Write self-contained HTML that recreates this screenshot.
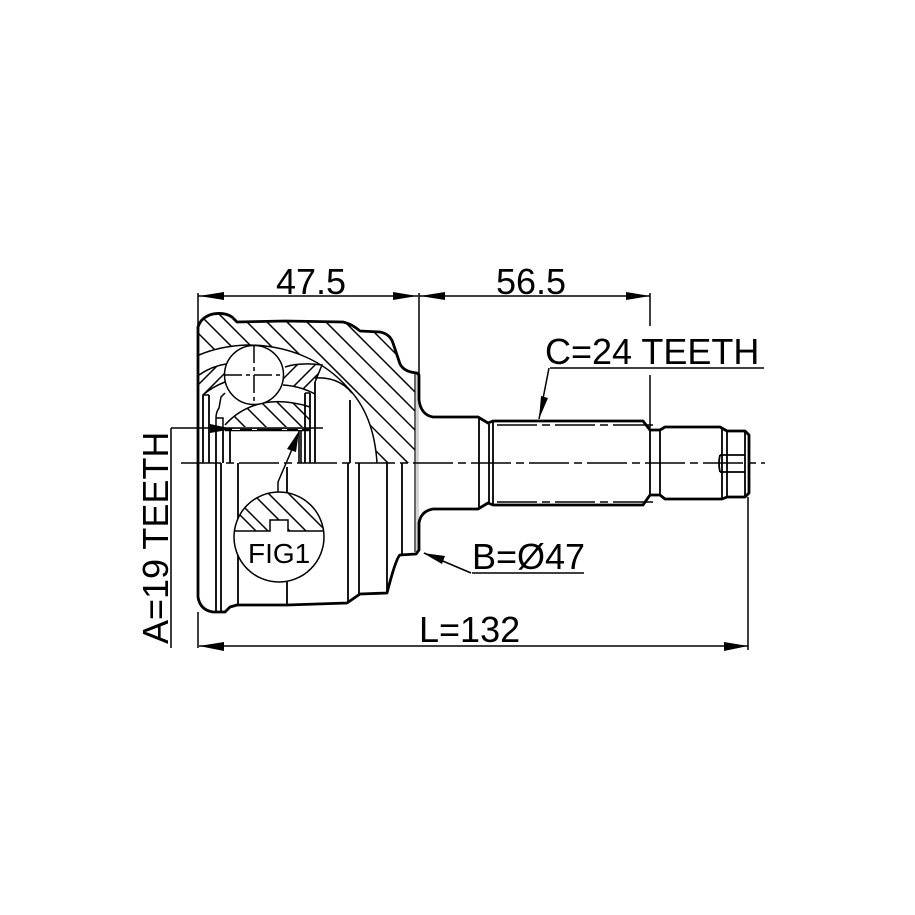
<!DOCTYPE html>
<html><head><meta charset="utf-8"><style>
html,body{margin:0;padding:0;background:#fff;width:915px;height:915px;overflow:hidden}
svg{display:block}
text{font-family:"Liberation Sans",sans-serif;fill:#000}
</style></head><body>
<svg width="915" height="915" viewBox="0 0 915 915" xmlns="http://www.w3.org/2000/svg">
<defs>
<clipPath id="h"><path d="M198 327Q201 317 213 314Q225 312 237 322L343 322Q352 324 360 331L383 332Q390 335 393 343L400 364Q404 372 415 373L415 463L377 463C375 430 365 405 347 387C325 362 290 345 247 345Q220 346 199 355Z"/></clipPath>
<clipPath id="c1"><path d="M199 375Q212 366 226 364L225 382Q212 387 203 395L199 395Z"/></clipPath>
<clipPath id="c2"><path d="M285 367Q300 362 322 365L315 382L315 394Q300 386 283 385Z"/></clipPath>
<clipPath id="hub"><path d="M225 425Q240 408 263 403Q285 399 310 407L310 427L228 427Z"/></clipPath>
<clipPath id="fig"><path d="M234.4 531A45 45 0 0 1 323.6 531L288 531L288 520L270 520L270 531Z"/></clipPath>
</defs>
<path d="M416 374H419V552H416Z" fill="#d4d4d4"/>
<g fill="none" stroke="#000" stroke-width="1.5">
<g clip-path="url(#h)">
<path d="M165 300L345 480M185 300L365 480M205 300L385 480M225 300L405 480M245 300L425 480M265 300L445 480M285 300L465 480M304 300L484 480M323 300L503 480M342 300L522 480"/>
</g>
<g clip-path="url(#c1)"><path d="M190 393L235 348M190 408L240 358M190 423L245 368"/></g>
<g clip-path="url(#c2)"><path d="M280 382L305 357M287 393L322 358M297 395L332 360"/></g>
<g clip-path="url(#hub)"><path d="M218 400L250 432M239 400L271 432M259 400L291 432M275 400L307 432M290 400L322 432"/></g>
<path d="M199 355Q220 346 247 345C290 345 325 362 347 387C365 405 375 430 377 463"/>
<path d="M315 378C330 377 343 382 352 393"/>
<path d="M199 375Q212 366 226 364M203 395Q212 387 225 382"/>
<path d="M285 367Q300 362 322 365L315 382M283 385Q300 386 315 394"/>
<path d="M225 425Q240 408 263 403Q285 399 310 407"/>
<path d="M203 395H209M305 393H310"/>
<path d="M225 393L221 397L219 408Q216 412 216 418V428M216 418H223V428"/>
<circle cx="254" cy="375" r="29.5" fill="#fff"/>
<path d="M415 373V552" stroke-width="1.2"/>
</g>
<g fill="none" stroke="#000" stroke-width="1.8">
<path d="M203 395V463M209 395V463M216 430V463M223 430V463M230 430V463"/>
<path d="M305 393V463M310 393V463M315 382V463M350 400V463"/>
<path d="M216 463V612M221 463V612M238 463V605M348 463V602M359 463V594M387 463V592M402 463V555M287 467V493M287 580V605"/>
<path d="M479 418V508M489 424V503M493 422V505M650 430V495M660 430V495M722 428V499M727 431V497M745 431V497M720 455H745M720 472H745M720 455Q718 463 720 472"/>
</g>
<path d="M198 597L198 327Q201 317 213 314Q225 312 232 317L237 322L285 321L343 322Q352 324 360 331L380 332Q390 334 393 343L400 364Q404 372 417 373L419 375L419 400Q421 415 433 417L478 417L488 423L493 421L643 421L650 430L660 430L665 427L720 427L727 431L745 431L749 435L749 493L745 497L727 497L722 499L665 499L660 495L650 495L643 505L493 505L488 503L478 509L433 509Q421 511 419 523L419 550L416 554L400 555Q396 558 387 593L360 594L347 603L287 605L237 605L230 607L225 612L213 612Q200 610 198 597Z" fill="none" stroke="#000" stroke-width="2.8" stroke-linejoin="round"/>
<circle cx="279" cy="537" r="45" fill="#fff" stroke="#000" stroke-width="1.5"/>
<g clip-path="url(#fig)" fill="none" stroke="#000" stroke-width="1.5"><path d="M225 500L265 540M222 485L272 535M240 481L290 531M258 483L318 543M275 480L335 540"/></g>
<path d="M234 531H270V520H288V531H324" fill="none" stroke="#000" stroke-width="1.5"/>
<g fill="none" stroke="#000" stroke-width="1.5">
<path d="M497 425H657M497 502H655" stroke-dasharray="40 5 8 5"/>
<path d="M181 463H765" stroke-dasharray="40 5 8 5"/>
<path d="M254 345V405M224 375H284" stroke-dasharray="18 4 4 4"/>
<path d="M198 296H418M419 296H650M199 646H748M198 293V327M419 293V375M650 293V326M650 375V428M748 497V650M198 612V648"/>
<path d="M171 428V648M171 428H323"/>
<path d="M550 368H764M549 368L539 419"/>
<path d="M472 573H584M471 573L424 553"/>
<path d="M278 492L278 482L296 440"/>
</g>
<path d="M225 430H310" stroke="#000" stroke-width="2.6"/>
<path d="M232 429.5h8M252 429.5h5M282 429.5h5M298 429.5h4" stroke="#fff" stroke-width="1"/>
<path d="M299 431V463M301 431V463" stroke="#000" stroke-width="1.6"/>
<g fill="#000">
<path d="M199 296L224 292V300ZM417 296L393 292V300ZM420 296L445 292V300ZM650 296L626 292V300ZM199 646L224 642V651ZM748 646L724 642V651Z"/>
<path d="M539 419L541 396L548 398Z"/>
<path d="M423 553L445 556L442 564Z"/>
<path d="M299 431L296 452L287 449Z"/>
<path d="M210 424L233 429L210 433Z"/>
</g>
<text x="276" y="294" font-size="36">47.5</text>
<text x="496" y="294" font-size="36">56.5</text>
<text x="545" y="364" font-size="36">C=24 TEETH</text>
<text x="472" y="569" font-size="36">B=Ø47</text>
<text x="419" y="642" font-size="36">L=132</text>
<text x="248" y="563" font-size="28">FIG1</text>
<text transform="translate(168 644) rotate(-90)" font-size="36">A=19 TEETH</text>
</svg>
</body></html>
